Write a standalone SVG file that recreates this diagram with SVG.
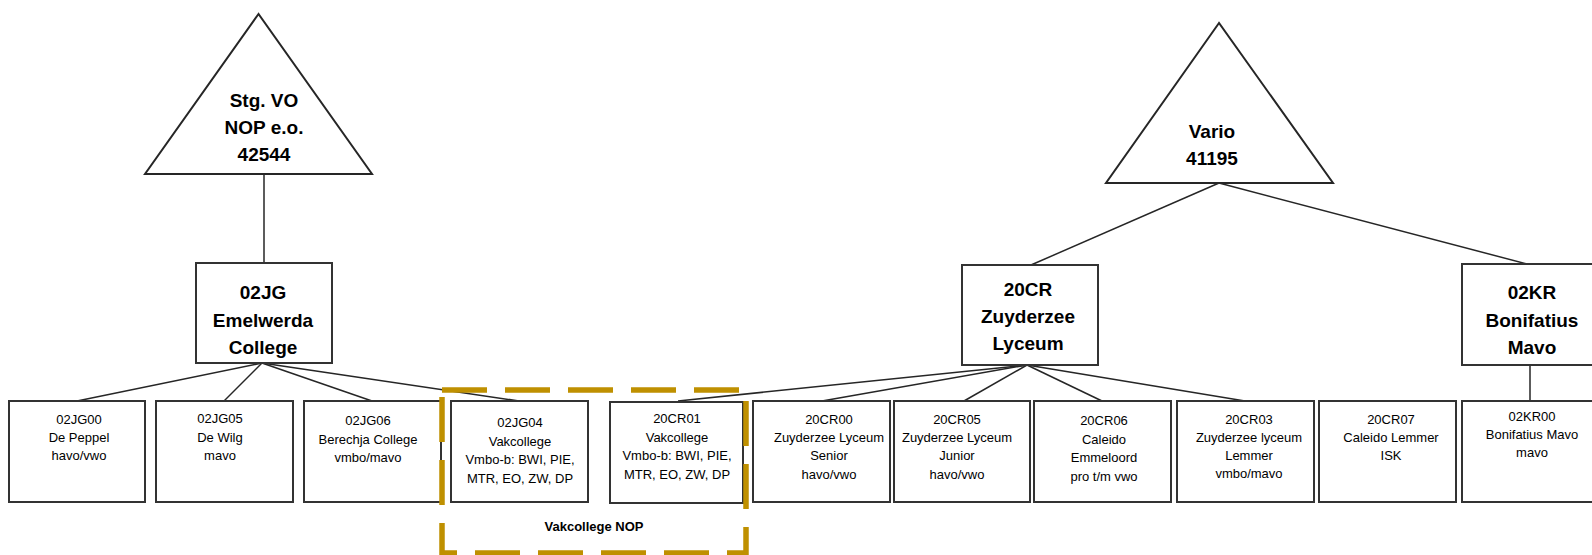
<svg xmlns="http://www.w3.org/2000/svg" width="1592" height="555" viewBox="0 0 1592 555">
<style>
  .tri { fill: #ffffff; stroke: #262626; stroke-width: 2; }
  .box { fill: #ffffff; stroke: #333333; stroke-width: 2; }
  .conn line { stroke: #262626; stroke-width: 1.5; }
  .h { font-family: "Liberation Sans", Arial, sans-serif; font-weight: bold; font-size: 19px; fill: #000; text-anchor: middle; }
  .t { font-family: "Liberation Sans", Arial, sans-serif; font-size: 13px; fill: #000; text-anchor: middle; }
  .grp { fill: none; stroke: #BF9000; stroke-width: 5.5; stroke-dasharray: 45 18; }
  .gl { font-family: "Liberation Sans", Arial, sans-serif; font-weight: bold; font-size: 13px; fill: #000; text-anchor: middle; }
</style>
<rect width="1592" height="555" fill="#ffffff"/>

<g id="connectors" class="conn">
  <line x1="264" y1="174" x2="264" y2="263"/>
  <line x1="262" y1="363" x2="77" y2="401"/>
  <line x1="262" y1="363" x2="224" y2="401"/>
  <line x1="262" y1="363" x2="372" y2="401"/>
  <line x1="262" y1="363" x2="519" y2="401"/>
  <line x1="1219" y1="183" x2="1031" y2="265"/>
  <line x1="1219" y1="183" x2="1527" y2="264"/>
  <line x1="1027" y1="365" x2="678" y2="401"/>
  <line x1="1027" y1="365" x2="822" y2="401"/>
  <line x1="1027" y1="365" x2="964" y2="401"/>
  <line x1="1027" y1="365" x2="1102" y2="401"/>
  <line x1="1027" y1="365" x2="1245" y2="401"/>
  <line x1="1530" y1="365" x2="1530" y2="401"/>
</g>

<g id="stg-vo-nop">
  <polygon class="tri" points="258.5,14 145,174 372,174"/>
  <text class="h" x="264" y="107">Stg. VO</text>
  <text class="h" x="264" y="134">NOP e.o.</text>
  <text class="h" x="264" y="161">42544</text>
</g>

<g id="vario">
  <polygon class="tri" points="1219,23 1106,183 1333,183"/>
  <text class="h" x="1212" y="138">Vario</text>
  <text class="h" x="1212" y="165">41195</text>
</g>

<g id="n02JG">
  <rect class="box" x="196" y="263" width="136" height="100"/>
  <text class="h" x="263" y="299">02JG</text>
  <text class="h" x="263" y="327">Emelwerda</text>
  <text class="h" x="263" y="354">College</text>
</g>

<g id="n20CR">
  <rect class="box" x="962" y="265" width="136" height="100"/>
  <text class="h" x="1028" y="296">20CR</text>
  <text class="h" x="1028" y="323">Zuyderzee</text>
  <text class="h" x="1028" y="350">Lyceum</text>
</g>

<g id="n02KR">
  <rect class="box" x="1462" y="264" width="138" height="101"/>
  <text class="h" x="1532" y="299">02KR</text>
  <text class="h" x="1532" y="327">Bonifatius</text>
  <text class="h" x="1532" y="354">Mavo</text>
</g>

<g id="n02JG00">
  <rect class="box" x="9" y="401" width="136" height="101"/>
  <text class="t" x="79" y="424">02JG00</text>
  <text class="t" x="79" y="442">De Peppel</text>
  <text class="t" x="79" y="460">havo/vwo</text>
</g>

<g id="n02JG05">
  <rect class="box" x="156" y="401" width="137" height="101"/>
  <text class="t" x="220" y="423">02JG05</text>
  <text class="t" x="220" y="442">De Wilg</text>
  <text class="t" x="220" y="460">mavo</text>
</g>

<g id="n02JG06">
  <rect class="box" x="304" y="401" width="137" height="101"/>
  <text class="t" x="368" y="425">02JG06</text>
  <text class="t" x="368" y="444">Berechja College</text>
  <text class="t" x="368" y="462">vmbo/mavo</text>
</g>

<g id="n02JG04">
  <rect class="box" x="451" y="401" width="137" height="101"/>
  <text class="t" x="520" y="427">02JG04</text>
  <text class="t" x="520" y="446">Vakcollege</text>
  <text class="t" x="520" y="464">Vmbo-b: BWI, PIE,</text>
  <text class="t" x="520" y="483">MTR, EO, ZW, DP</text>
</g>

<g id="n20CR01">
  <rect class="box" x="610" y="402" width="133" height="101"/>
  <text class="t" x="677" y="423">20CR01</text>
  <text class="t" x="677" y="442">Vakcollege</text>
  <text class="t" x="677" y="460">Vmbo-b: BWI, PIE,</text>
  <text class="t" x="677" y="479">MTR, EO, ZW, DP</text>
</g>

<g id="n20CR00">
  <rect class="box" x="753" y="401" width="137" height="101"/>
  <text class="t" x="829" y="424">20CR00</text>
  <text class="t" x="829" y="442">Zuyderzee Lyceum</text>
  <text class="t" x="829" y="460">Senior</text>
  <text class="t" x="829" y="479">havo/vwo</text>
</g>

<g id="n20CR05">
  <rect class="box" x="894" y="401" width="136" height="101"/>
  <text class="t" x="957" y="424">20CR05</text>
  <text class="t" x="957" y="442">Zuyderzee Lyceum</text>
  <text class="t" x="957" y="460">Junior</text>
  <text class="t" x="957" y="479">havo/vwo</text>
</g>

<g id="n20CR06">
  <rect class="box" x="1034" y="401" width="137" height="101"/>
  <text class="t" x="1104" y="425">20CR06</text>
  <text class="t" x="1104" y="444">Caleido</text>
  <text class="t" x="1104" y="462">Emmeloord</text>
  <text class="t" x="1104" y="481">pro t/m vwo</text>
</g>

<g id="n20CR03">
  <rect class="box" x="1177" y="401" width="137" height="101"/>
  <text class="t" x="1249" y="424">20CR03</text>
  <text class="t" x="1249" y="442">Zuyderzee lyceum</text>
  <text class="t" x="1249" y="460">Lemmer</text>
  <text class="t" x="1249" y="478">vmbo/mavo</text>
</g>

<g id="n20CR07">
  <rect class="box" x="1319" y="401" width="137" height="101"/>
  <text class="t" x="1391" y="424">20CR07</text>
  <text class="t" x="1391" y="442">Caleido Lemmer</text>
  <text class="t" x="1391" y="460">ISK</text>
</g>

<g id="n02KR00">
  <rect class="box" x="1462" y="401" width="138" height="101"/>
  <text class="t" x="1532" y="421">02KR00</text>
  <text class="t" x="1532" y="439">Bonifatius Mavo</text>
  <text class="t" x="1532" y="457">mavo</text>
</g>

<g id="vakcollege-nop">
  <rect class="grp" x="442" y="390" width="304" height="163"/>
  <text class="gl" x="594" y="531">Vakcollege NOP</text>
</g>
</svg>
